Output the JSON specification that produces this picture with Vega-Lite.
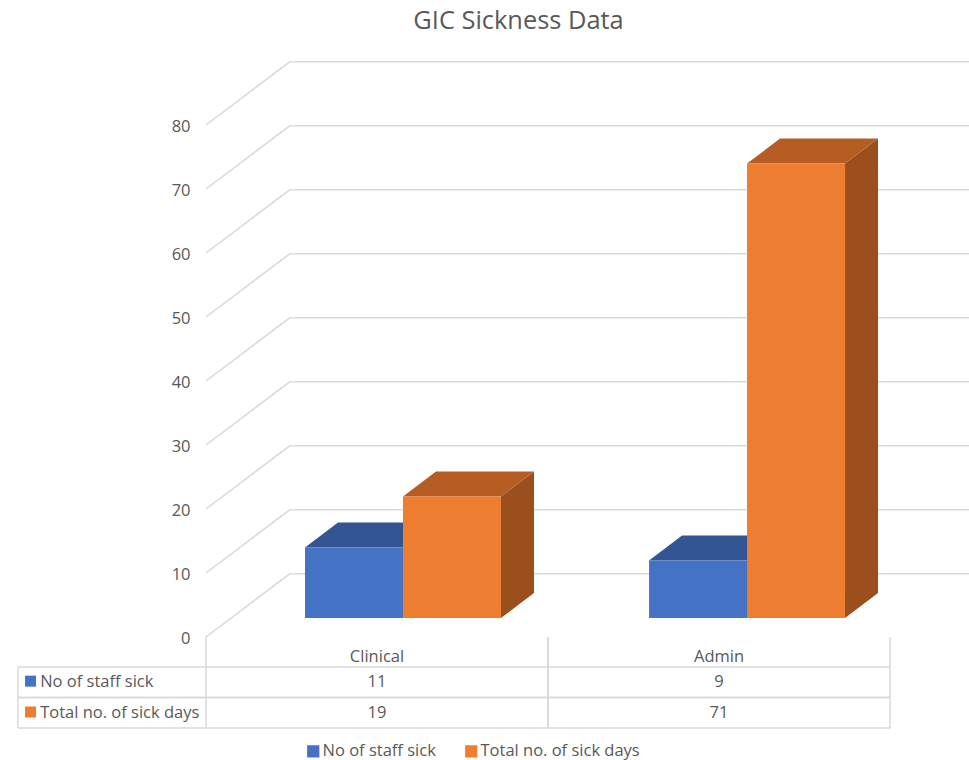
{
  "$schema": "https://vega.github.io/schema/vega-lite/v6.json",
  "autosize": {"type": "none"},
  "padding": {"left": 206, "top": 40, "right": 0, "bottom": 0},
  "width": 763,
  "height": 720,
  "background": "white",
  "title": {
    "text": "GIC Sickness Data",
    "anchor": "middle",
    "dx": -69,
    "offset": 6,
    "font": "Open Sans",
    "fontSize": 25.4,
    "fontWeight": "normal",
    "color": "#595959"
  },
  "config": {
    "view": {"stroke": null},
    "font": "Open Sans",
    "text": {"font": "Open Sans", "fontSize": 16.5, "fill": "#595959"}
  },
  "datasets": {
    "sickness": [
      {"category": "Clinical", "series": "No of staff sick", "value": 11},
      {"category": "Clinical", "series": "Total no. of sick days", "value": 19},
      {"category": "Admin", "series": "No of staff sick", "value": 9},
      {"category": "Admin", "series": "Total no. of sick days", "value": 71}
    ],
    "gridTicks": [
      {"tick": 0}, {"tick": 10}, {"tick": 20}, {"tick": 30}, {"tick": 40},
      {"tick": 50}, {"tick": 60}, {"tick": 70}, {"tick": 80}
    ],
    "categories": [{"category": "Clinical"}, {"category": "Admin"}],
    "tableRows": [
      {"series": "No of staff sick"},
      {"series": "Total no. of sick days"}
    ]
  },
  "layer": [
    {
      "description": "Floor-to-wall diagonal of each gridline",
      "data": {"name": "gridTicks"},
      "transform": [
        {"calculate": "datum.tick + 9.9", "as": "wallLevel"},
        {"calculate": "0", "as": "frontX"},
        {"calculate": "0.2456", "as": "wallX"}
      ],
      "mark": {"type": "rule", "color": "#D9D9D9", "strokeWidth": 1.5},
      "encoding": {
        "x": {"field": "frontX", "type": "quantitative", "title": null, "axis": null, "scale": {"domain": [0, 2.231], "nice": false, "zero": false}},
        "x2": {"field": "wallX"},
        "y": {
          "field": "tick",
          "type": "quantitative",
          "title": null,
          "scale": {"domain": [-19.22, 93.28], "nice": false, "zero": false},
          "axis": {
            "values": [0, 10, 20, 30, 40, 50, 60, 70, 80],
            "domain": false,
            "ticks": false,
            "grid": false,
            "labelPadding": 16,
            "labelOffset": 2,
            "labelFont": "Open Sans",
            "labelFontSize": 16.5,
            "labelColor": "#595959"
          }
        },
        "y2": {"field": "wallLevel"}
      }
    },
    {
      "description": "Back-wall part of each gridline",
      "data": {"name": "gridTicks"},
      "transform": [
        {"calculate": "datum.tick + 9.9", "as": "wallLevel"},
        {"calculate": "0.2456", "as": "wallX"},
        {"calculate": "2.231", "as": "wallEnd"}
      ],
      "mark": {"type": "rule", "color": "#D9D9D9", "strokeWidth": 1.5},
      "encoding": {
        "x": {"field": "wallX", "type": "quantitative", "title": null, "axis": null, "scale": {"domain": [0, 2.231], "nice": false, "zero": false}},
        "x2": {"field": "wallEnd"},
        "y": {"field": "wallLevel", "type": "quantitative", "title": null, "scale": {"domain": [-19.22, 93.28], "nice": false, "zero": false}}
      }
    },
    {
      "description": "Right-hand face of each bar",
      "data": {"name": "sickness"},
      "transform": [
        {"calculate": "(datum.category === 'Admin' ? 1.006 : 0) + (datum.series === 'No of staff sick' ? 0 : 0.2865) + 0.2895 + 0.2865", "as": "rightEdge"},
        {"calculate": "[0, 1]", "as": "depth"},
        {"flatten": ["depth"]},
        {"calculate": "datum.rightEdge + datum.depth * 0.0965", "as": "px"},
        {"calculate": "2.97 + datum.value + datum.depth * 3.9", "as": "upper"},
        {"calculate": "2.97 + datum.depth * 3.9", "as": "lower"},
        {"calculate": "datum.category + datum.series", "as": "bar"}
      ],
      "mark": {"type": "area", "orient": "vertical"},
      "encoding": {
        "x": {"field": "px", "type": "quantitative", "title": null, "axis": null, "scale": {"domain": [0, 2.231], "nice": false, "zero": false}},
        "y": {"field": "upper", "type": "quantitative", "title": null, "scale": {"domain": [-19.22, 93.28], "nice": false, "zero": false}},
        "y2": {"field": "lower"},
        "detail": {"field": "bar"},
        "color": {
          "condition": {"test": "datum.series === 'No of staff sick'", "value": "#2C4A80"},
          "value": "#9A4F1D"
        }
      }
    },
    {
      "description": "Top face of each bar",
      "data": {"name": "sickness"},
      "transform": [
        {"calculate": "(datum.category === 'Admin' ? 1.006 : 0) + (datum.series === 'No of staff sick' ? 0 : 0.2865) + 0.2895", "as": "leftEdge"},
        {"calculate": "[0, 1]", "as": "depth"},
        {"flatten": ["depth"]},
        {"calculate": "datum.leftEdge + datum.depth * 0.0965", "as": "pxLeft"},
        {"calculate": "datum.pxLeft + 0.2865", "as": "pxRight"},
        {"calculate": "2.97 + datum.value + datum.depth * 3.9", "as": "level"},
        {"calculate": "datum.category + datum.series", "as": "bar"}
      ],
      "mark": {"type": "area", "orient": "horizontal"},
      "encoding": {
        "x": {"field": "pxLeft", "type": "quantitative", "title": null, "axis": null, "scale": {"domain": [0, 2.231], "nice": false, "zero": false}},
        "x2": {"field": "pxRight"},
        "y": {"field": "level", "type": "quantitative", "title": null, "scale": {"domain": [-19.22, 93.28], "nice": false, "zero": false}},
        "detail": {"field": "bar"},
        "color": {
          "condition": {"test": "datum.series === 'No of staff sick'", "value": "#335593"},
          "value": "#B55D22"
        }
      }
    },
    {
      "description": "Front face of each bar, raised off the chart floor by the gap depth",
      "data": {"name": "sickness"},
      "transform": [
        {"calculate": "(datum.category === 'Admin' ? 1.006 : 0) + (datum.series === 'No of staff sick' ? 0 : 0.2865) + 0.2895", "as": "leftEdge"},
        {"calculate": "datum.leftEdge + 0.2865", "as": "rightEdge"},
        {"calculate": "2.97 + datum.value", "as": "upper"},
        {"calculate": "2.97", "as": "lower"}
      ],
      "mark": {"type": "rect"},
      "encoding": {
        "x": {"field": "leftEdge", "type": "quantitative", "title": null, "axis": null, "scale": {"domain": [0, 2.231], "nice": false, "zero": false}},
        "x2": {"field": "rightEdge"},
        "y": {"field": "upper", "type": "quantitative", "title": null, "scale": {"domain": [-19.22, 93.28], "nice": false, "zero": false}},
        "y2": {"field": "lower"},
        "color": {
          "field": "series",
          "type": "nominal",
          "scale": {"domain": ["No of staff sick", "Total no. of sick days"], "range": ["#4472C4", "#ED7D31"]},
          "legend": {
            "title": null,
            "orient": "none",
            "direction": "horizontal",
            "legendX": 99,
            "legendY": 703,
            "symbolType": "square",
            "symbolSize": 150,
            "symbolStrokeWidth": 0,
            "labelFont": "Open Sans",
            "labelFontSize": 16.5,
            "labelColor": "#595959",
            "labelOffset": 1,
            "columnPadding": 27
          }
        }
      }
    },
    {
      "description": "Data table: horizontal rule above each row",
      "data": {"name": "tableRows"},
      "transform": [
        {"calculate": "datum.series === 'No of staff sick' ? -4.69 : -9.45", "as": "rowTop"},
        {"calculate": "-0.55", "as": "tableLeft"},
        {"calculate": "2", "as": "tableRight"}
      ],
      "mark": {"type": "rule", "color": "#D9D9D9", "strokeWidth": 1.5},
      "encoding": {
        "x": {"field": "tableLeft", "type": "quantitative", "title": null, "axis": null, "scale": {"domain": [0, 2.231], "nice": false, "zero": false}},
        "x2": {"field": "tableRight"},
        "y": {"field": "rowTop", "type": "quantitative", "title": null, "scale": {"domain": [-19.22, 93.28], "nice": false, "zero": false}}
      }
    },
    {
      "description": "Data table: horizontal rule below each row",
      "data": {"name": "tableRows"},
      "transform": [
        {"calculate": "datum.series === 'No of staff sick' ? -9.45 : -14.22", "as": "rowBottom"},
        {"calculate": "-0.55", "as": "tableLeft"},
        {"calculate": "2", "as": "tableRight"}
      ],
      "mark": {"type": "rule", "color": "#D9D9D9", "strokeWidth": 1.5},
      "encoding": {
        "x": {"field": "tableLeft", "type": "quantitative", "title": null, "axis": null, "scale": {"domain": [0, 2.231], "nice": false, "zero": false}},
        "x2": {"field": "tableRight"},
        "y": {"field": "rowBottom", "type": "quantitative", "title": null, "scale": {"domain": [-19.22, 93.28], "nice": false, "zero": false}}
      }
    },
    {
      "description": "Data table: outer left edge beside the row headers",
      "data": {"name": "tableRows"},
      "transform": [
        {"calculate": "datum.series === 'No of staff sick' ? -4.69 : -9.45", "as": "rowTop"},
        {"calculate": "datum.series === 'No of staff sick' ? -9.45 : -14.22", "as": "rowBottom"},
        {"calculate": "-0.55", "as": "tableLeft"}
      ],
      "mark": {"type": "rule", "color": "#D9D9D9", "strokeWidth": 1.5},
      "encoding": {
        "x": {"field": "tableLeft", "type": "quantitative", "title": null, "axis": null, "scale": {"domain": [0, 2.231], "nice": false, "zero": false}},
        "y": {"field": "rowTop", "type": "quantitative", "title": null, "scale": {"domain": [-19.22, 93.28], "nice": false, "zero": false}},
        "y2": {"field": "rowBottom"}
      }
    },
    {
      "description": "Data table: left edge of each category column",
      "data": {"name": "categories"},
      "transform": [
        {"calculate": "datum.category === 'Admin' ? 1 : 0", "as": "columnLeft"},
        {"calculate": "0", "as": "floorLevel"},
        {"calculate": "-14.22", "as": "tableBottom"}
      ],
      "mark": {"type": "rule", "color": "#D9D9D9", "strokeWidth": 1.5},
      "encoding": {
        "x": {"field": "columnLeft", "type": "quantitative", "title": null, "axis": null, "scale": {"domain": [0, 2.231], "nice": false, "zero": false}},
        "y": {"field": "floorLevel", "type": "quantitative", "title": null, "scale": {"domain": [-19.22, 93.28], "nice": false, "zero": false}},
        "y2": {"field": "tableBottom"}
      }
    },
    {
      "description": "Data table: right edge of each category column",
      "data": {"name": "categories"},
      "transform": [
        {"calculate": "datum.category === 'Admin' ? 2 : 1", "as": "columnRight"},
        {"calculate": "0", "as": "floorLevel"},
        {"calculate": "-14.22", "as": "tableBottom"}
      ],
      "mark": {"type": "rule", "color": "#D9D9D9", "strokeWidth": 1.5},
      "encoding": {
        "x": {"field": "columnRight", "type": "quantitative", "title": null, "axis": null, "scale": {"domain": [0, 2.231], "nice": false, "zero": false}},
        "y": {"field": "floorLevel", "type": "quantitative", "title": null, "scale": {"domain": [-19.22, 93.28], "nice": false, "zero": false}},
        "y2": {"field": "tableBottom"}
      }
    },
    {
      "description": "Category labels above the table rows",
      "data": {"name": "categories"},
      "transform": [
        {"calculate": "(datum.category === 'Admin' ? 1 : 0) + 0.5", "as": "columnCentre"},
        {"calculate": "-2.97", "as": "headerLevel"}
      ],
      "mark": {"type": "text", "align": "center", "baseline": "middle", "dy": 1},
      "encoding": {
        "x": {"field": "columnCentre", "type": "quantitative", "title": null, "axis": null, "scale": {"domain": [0, 2.231], "nice": false, "zero": false}},
        "y": {"field": "headerLevel", "type": "quantitative", "title": null, "scale": {"domain": [-19.22, 93.28], "nice": false, "zero": false}},
        "text": {"field": "category"}
      }
    },
    {
      "description": "Table cells: the same values the bars are drawn from",
      "data": {"name": "sickness"},
      "transform": [
        {"calculate": "(datum.category === 'Admin' ? 1 : 0) + 0.5", "as": "columnCentre"},
        {"calculate": "datum.series === 'No of staff sick' ? -6.9 : -11.72", "as": "rowLevel"}
      ],
      "mark": {"type": "text", "align": "center", "baseline": "middle", "dy": 1},
      "encoding": {
        "x": {"field": "columnCentre", "type": "quantitative", "title": null, "axis": null, "scale": {"domain": [0, 2.231], "nice": false, "zero": false}},
        "y": {"field": "rowLevel", "type": "quantitative", "title": null, "scale": {"domain": [-19.22, 93.28], "nice": false, "zero": false}},
        "text": {"field": "value", "type": "quantitative"}
      }
    },
    {
      "description": "Row header text",
      "data": {"name": "tableRows"},
      "transform": [
        {"calculate": "-0.485", "as": "headerX"},
        {"calculate": "datum.series === 'No of staff sick' ? -6.9 : -11.72", "as": "rowLevel"}
      ],
      "mark": {"type": "text", "align": "left", "baseline": "middle", "dy": 1},
      "encoding": {
        "x": {"field": "headerX", "type": "quantitative", "title": null, "axis": null, "scale": {"domain": [0, 2.231], "nice": false, "zero": false}},
        "y": {"field": "rowLevel", "type": "quantitative", "title": null, "scale": {"domain": [-19.22, 93.28], "nice": false, "zero": false}},
        "text": {"field": "series"}
      }
    },
    {
      "description": "Row header colour keys",
      "data": {"name": "tableRows"},
      "transform": [
        {"calculate": "-0.513", "as": "keyX"},
        {"calculate": "datum.series === 'No of staff sick' ? -6.9 : -11.72", "as": "rowLevel"}
      ],
      "mark": {"type": "square", "size": 121, "opacity": 1},
      "encoding": {
        "x": {"field": "keyX", "type": "quantitative", "title": null, "axis": null, "scale": {"domain": [0, 2.231], "nice": false, "zero": false}},
        "y": {"field": "rowLevel", "type": "quantitative", "title": null, "scale": {"domain": [-19.22, 93.28], "nice": false, "zero": false}},
        "color": {
          "field": "series",
          "type": "nominal",
          "scale": {"domain": ["No of staff sick", "Total no. of sick days"], "range": ["#4472C4", "#ED7D31"]},
          "legend": null
        }
      }
    }
  ]
}
